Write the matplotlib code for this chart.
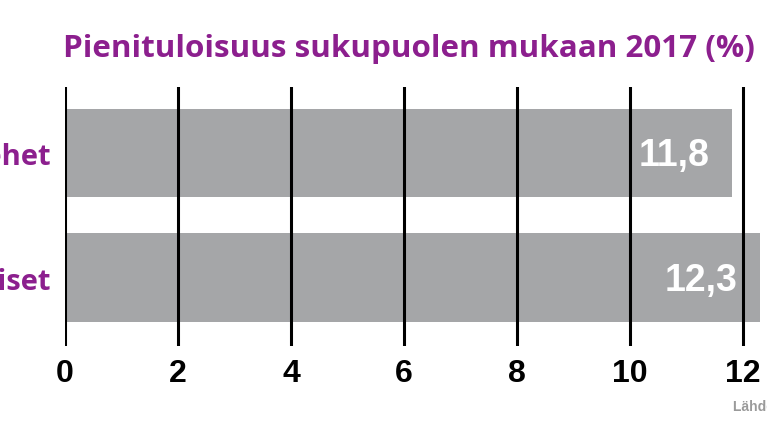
import matplotlib.pyplot as plt

plt.rcParams['font.family'] = ['Liberation Sans', 'DejaVu Sans']

categories = ["Miehet", "Naiset"]
values = [11.8, 12.3]
value_labels = ["11,8", "12,3"]
ticks = [0, 2, 4, 6, 8, 10, 12]

purple = "#8c1f8e"
bar_grey = "#a5a6a8"
head_font = ['Open Sans', 'DejaVu Sans']

fig = plt.figure(figsize=(7.67, 4.31), dpi=100)
ax = fig.add_axes([65 / 767, 84 / 431, 702 / 767, 259 / 431])

ypos = list(range(len(categories)))
ax.barh(ypos, values, height=0.71, color=bar_grey, zorder=1)

for t in ticks:
    ax.axvline(t, color="black", lw=2.2, zorder=2)

for y, v, lab in zip(ypos, values, value_labels):
    ax.text(v - 0.4, y + 0.02, lab, ha="right", va="center", color="white",
            fontsize=27, fontweight="bold", zorder=3)

ax.set_xlim(0, 702 / 56.5)
ax.set_ylim(1.55, -0.53)
ax.set_xticks(ticks)
ax.set_xticklabels([str(t) for t in ticks], fontsize=23, fontweight="bold")
ax.set_yticks(ypos)
ax.set_yticklabels(categories, fontsize=21, fontweight="bold", color=purple,
                   family=head_font)
ax.tick_params(length=0, axis="x", pad=9)
ax.tick_params(length=0, axis="y", pad=10)
for s in ax.spines.values():
    s.set_visible(False)

fig.text(409 / 767, 1 - 49 / 431, "Pienituloisuus sukupuolen mukaan 2017 (%)",
         ha="center", va="center", color=purple, fontsize=22.6, fontweight="bold",
         family=head_font)
fig.text(733 / 767, 1 - 407 / 431, "Lähde: Tilastokeskus", ha="left", va="center",
         color="#9a9a9a", fontsize=10, fontweight="bold")

fig.savefig("out.png", dpi=100)
